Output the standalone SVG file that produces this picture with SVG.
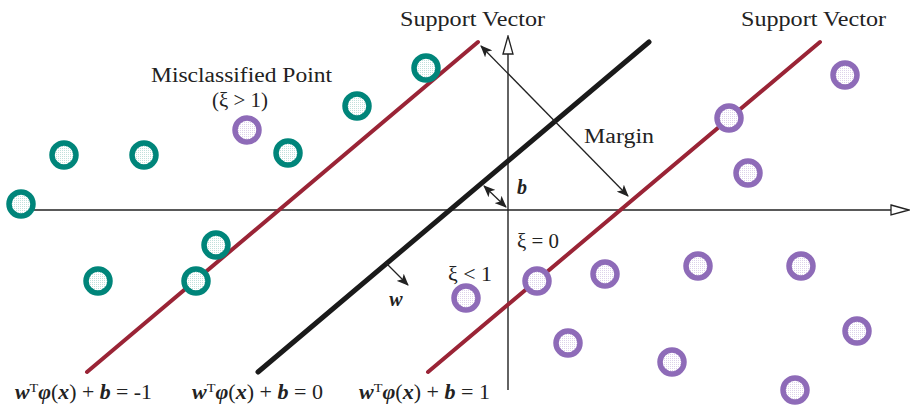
<svg xmlns="http://www.w3.org/2000/svg" width="912" height="405" viewBox="0 0 912 405">
<defs>
<marker id="open" viewBox="0 0 20 12" refX="1" refY="6" markerWidth="20" markerHeight="12" markerUnits="userSpaceOnUse" orient="auto">
<path d="M1,1 L19,6 L1,11 Z" fill="#fff" stroke="#222" stroke-width="1.3"/>
</marker>
<marker id="ah" viewBox="0 0 12 10" refX="11" refY="5" markerWidth="12" markerHeight="10" markerUnits="userSpaceOnUse" orient="auto-start-reverse">
<path d="M0,0 L12,5 L0,10 L3,5 Z" fill="#222"/>
</marker>
<pattern id="dt" width="2" height="2" patternUnits="userSpaceOnUse">
<rect width="2" height="2" fill="#fff"/><rect width="1" height="1" fill="#c2e0dc"/>
</pattern>
<pattern id="dp" width="2" height="2" patternUnits="userSpaceOnUse">
<rect width="2" height="2" fill="#fff"/><rect width="1" height="1" fill="#ddd3ea"/>
</pattern>
</defs>
<style>
.t{fill:url(#dt);stroke:#00857a;stroke-width:5.5}
.p{fill:url(#dp);stroke:#8e6bb8;stroke-width:5.5}
.lbl{font-family:"Liberation Serif","DejaVu Serif",serif;font-size:20px;fill:#222}
.eq{font-family:"Liberation Serif","DejaVu Serif",serif;font-size:20px;fill:#222}
.bi{font-weight:bold;font-style:italic}
.red{stroke:#9a2436;stroke-width:4;stroke-linecap:round}
.blk{stroke:#1a1a1a;stroke-width:5;stroke-linecap:round}
.ax{stroke:#222;stroke-width:1.4;fill:none}
.ar{stroke:#222;stroke-width:1.3;fill:none}
</style>
<g id="connectors">
<line class="ax" x1="22" y1="210" x2="891" y2="210" marker-end="url(#open)"/>
<line class="ax" x1="508" y1="390" x2="508" y2="54" marker-end="url(#open)"/>
<line class="red" x1="87" y1="372" x2="478" y2="42"/>
<line class="blk" x1="258" y1="372" x2="649" y2="42"/>
<line class="red" x1="428" y1="372" x2="820" y2="42"/>
<line class="ar" x1="481" y1="46" x2="628" y2="196" marker-start="url(#ah)" marker-end="url(#ah)"/>
<line class="ar" x1="484" y1="186" x2="506" y2="207" marker-start="url(#ah)" marker-end="url(#ah)"/>
<line class="ar" x1="385" y1="262" x2="408" y2="285" marker-end="url(#ah)"/>
</g>
<g id="teal-points">
<circle class="t" cx="426" cy="68" r="12"/>
<circle class="t" cx="357" cy="106" r="12"/>
<circle class="t" cx="288" cy="153" r="12"/>
<circle class="t" cx="144" cy="155" r="12"/>
<circle class="t" cx="64" cy="155" r="12"/>
<circle class="t" cx="21" cy="204" r="12"/>
<circle class="t" cx="216" cy="245" r="12"/>
<circle class="t" cx="98" cy="281" r="12"/>
<circle class="t" cx="196" cy="281" r="12"/>
</g>
<g id="purple-points">
<circle class="p" cx="247" cy="130" r="12"/>
<circle class="p" cx="729" cy="118" r="12"/>
<circle class="p" cx="845" cy="75" r="12"/>
<circle class="p" cx="748" cy="173" r="12"/>
<circle class="p" cx="537" cy="281" r="12"/>
<circle class="p" cx="605" cy="274" r="12"/>
<circle class="p" cx="698" cy="266" r="12"/>
<circle class="p" cx="801" cy="266" r="12"/>
<circle class="p" cx="466" cy="298" r="12"/>
<circle class="p" cx="568" cy="343" r="12"/>
<circle class="p" cx="672" cy="362" r="12"/>
<circle class="p" cx="857" cy="331" r="12"/>
<circle class="p" cx="795" cy="390" r="12"/>
</g>
<g id="labels">
<text class="lbl" x="400" y="26" textLength="145" lengthAdjust="spacingAndGlyphs">Support Vector</text>
<text class="lbl" x="741" y="26" textLength="145" lengthAdjust="spacingAndGlyphs">Support Vector</text>
<text class="lbl" x="151" y="82" textLength="181" lengthAdjust="spacingAndGlyphs">Misclassified Point</text>
<text class="lbl" x="212" y="107" textLength="56" lengthAdjust="spacingAndGlyphs">(ξ &gt; 1)</text>
<text class="lbl" x="584" y="143" textLength="70" lengthAdjust="spacingAndGlyphs">Margin</text>
<text class="lbl bi" x="517" y="194">b</text>
<text class="lbl" x="517" y="248" textLength="42" lengthAdjust="spacingAndGlyphs">ξ = 0</text>
<text class="lbl" x="448" y="281" textLength="44" lengthAdjust="spacingAndGlyphs">ξ &lt; 1</text>
<text class="lbl bi" x="396" y="306" text-anchor="middle">w</text>
<text class="eq" x="15" y="399" textLength="137" lengthAdjust="spacingAndGlyphs"><tspan class="bi">w</tspan><tspan font-size="13" dy="-7">T</tspan><tspan class="bi" dy="7">φ</tspan>(<tspan class="bi">x</tspan>) + <tspan class="bi">b</tspan> = -1</text>
<text class="eq" x="192" y="399" textLength="131" lengthAdjust="spacingAndGlyphs"><tspan class="bi">w</tspan><tspan font-size="13" dy="-7">T</tspan><tspan class="bi" dy="7">φ</tspan>(<tspan class="bi">x</tspan>) + <tspan class="bi">b</tspan> = 0</text>
<text class="eq" x="359" y="399" textLength="131" lengthAdjust="spacingAndGlyphs"><tspan class="bi">w</tspan><tspan font-size="13" dy="-7">T</tspan><tspan class="bi" dy="7">φ</tspan>(<tspan class="bi">x</tspan>) + <tspan class="bi">b</tspan> = 1</text>
</g>
</svg>
